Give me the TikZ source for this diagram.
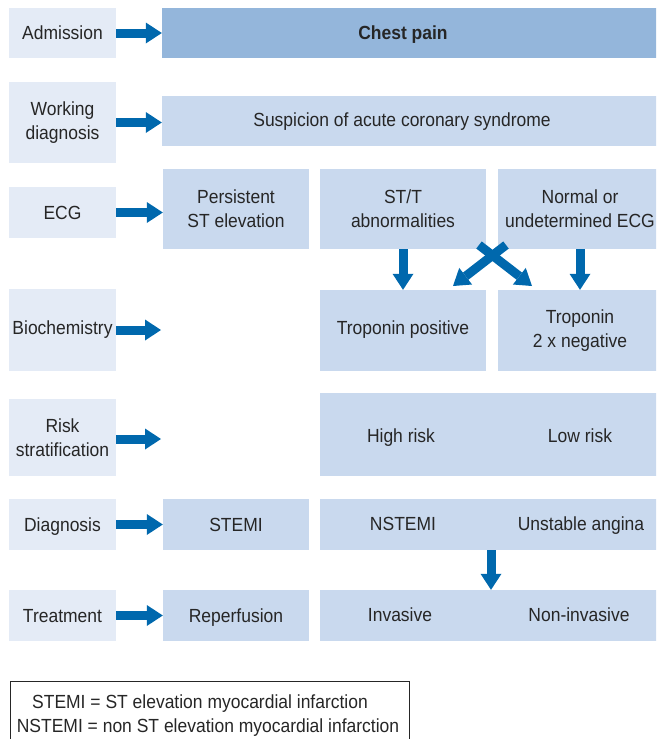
\documentclass[tikz,border=0pt]{standalone}
\usepackage{fontspec}
\setmainfont{Liberation Sans}[FakeStretch=0.92]
\usetikzlibrary{arrows.meta}
\definecolor{lboxc}{HTML}{E4EBF6}
\definecolor{cboxc}{HTML}{C9D9EE}
\definecolor{chestc}{HTML}{94B6DB}
\definecolor{arrc}{HTML}{0068AD}
\definecolor{txtc}{HTML}{262626}
\begin{document}
\begin{tikzpicture}[x=1pt,y=-1pt,
  every node/.style={font=\fontsize{19}{24}\selectfont, text=txtc},
  lbox/.style={fill=lboxc, inner sep=0pt, align=center, minimum width=107pt},
  cbox/.style={fill=cboxc, inner sep=0pt, align=center},
  txt/.style={inner sep=0pt, align=center},
  one/.style={text height=13.6pt, text depth=0pt},
  arr/.style={draw=arrc, line width=9pt, -{Triangle[length=16pt,width=21pt,line width=0pt]}}]
\clip (0,0) rectangle (656,739);
% left column
\node[lbox, one, minimum height=50pt] (adm) at (62.5,33) {Admission};
\node[lbox, minimum height=81pt] (wd) at (62.5,122.5) {Working\\diagnosis};
\node[lbox, one, minimum height=51pt] (ecg) at (62.5,212.5) {ECG};
\node[lbox, one, text depth=5pt, minimum height=82pt] (bio) at (62.5,330) {Biochemistry};
\node[lbox, minimum height=77pt] (risk) at (62.5,437.5) {Risk\\stratification};
\node[lbox, one, minimum height=51pt] (diag) at (62.5,524.5) {Diagnosis};
\node[lbox, one, minimum height=51pt] (treat) at (62.5,615.5) {Treatment};
% content boxes
\node[fill=chestc, inner sep=0pt, minimum width=500pt, minimum height=50pt] (chest) at (412,33) {};
\node[txt, one] (chestt) at (403,33) {\bfseries Chest pain};
\node[cbox, minimum width=500pt, minimum height=50pt] (susp) at (412,121) {};
\node[txt, one] (suspt) at (402,120) {Suspicion of acute coronary syndrome};
\node[cbox, minimum width=146pt, minimum height=80pt] (pers) at (236,209) {Persistent\\ST elevation};
\node[cbox, minimum width=166pt, minimum height=80pt] (stt) at (403,209) {ST/T\\abnormalities};
\node[cbox, minimum width=164pt, minimum height=80pt] (norm) at (580,209) {Normal or\\undetermined ECG};
\node[cbox, one, text depth=5pt, minimum width=166pt, minimum height=81pt] (tpos) at (403,330.5) {Troponin positive};
\node[cbox, minimum width=164pt, minimum height=81pt] (tneg) at (580,330.5) {Troponin\\2 x negative};
\node[cbox, minimum width=342pt, minimum height=83pt] (rbox) at (491,434.5) {};
\node[txt, one] (high) at (401,435.5) {High risk};
\node[txt, one] (low) at (580,435.5) {Low risk};
\node[cbox, one, minimum width=146pt, minimum height=51pt] (stemi) at (236,524.5) {STEMI};
\node[cbox, minimum width=342pt, minimum height=51pt] (nst) at (491,524.5) {};
\node[txt, one] (nstt) at (403,524) {NSTEMI};
\node[txt, one] (ua) at (581,524) {Unstable angina};
\node[cbox, one, minimum width=146pt, minimum height=51pt] (rep) at (236,615.5) {Reperfusion};
\node[cbox, minimum width=342pt, minimum height=51pt] (inv) at (491,615.5) {};
\node[txt, one] (invt) at (400,615) {Invasive};
\node[txt, one] (ninv) at (579,615) {Non-invasive};
% free arrow ends
\coordinate (bioend) at (161,330);
\coordinate (riskend) at (161,439);
\coordinate (xa) at (506,245);
\coordinate (xb) at (479,245);
\coordinate (xaend) at (453,286);
\coordinate (xbend) at (532,286);
% arrows
\draw[arr] (adm.east) -- (chest.west);
\draw[arr] (wd.east) -- (wd.east -| susp.west);
\draw[arr] (ecg.east) -- (ecg.east -| pers.west);
\draw[arr] (bio.east) -- (bioend);
\draw[arr] (risk.east |- riskend) -- (riskend);
\draw[arr] (diag.east) -- (stemi.west);
\draw[arr] (treat.east) -- (rep.west);
\draw[arr] (stt.south) -- (tpos.north);
\draw[arr] (norm.south) -- (tneg.north);
\draw[arr] (xa) -- (xaend);
\draw[arr] (xb) -- (xbend);
\draw[arr] (nst.south) -- (inv.north);
% legend
\node[draw=txtc, line width=1pt, inner sep=0pt, minimum width=399pt, minimum height=70pt] (leg) at (209.5,716) {};
\node[txt, anchor=base] (leg1) at (200,708) {STEMI = ST elevation myocardial infarction};
\node[txt, anchor=base] (leg2) at (208,732) {NSTEMI = non ST elevation myocardial infarction};
\end{tikzpicture}
\end{document}
